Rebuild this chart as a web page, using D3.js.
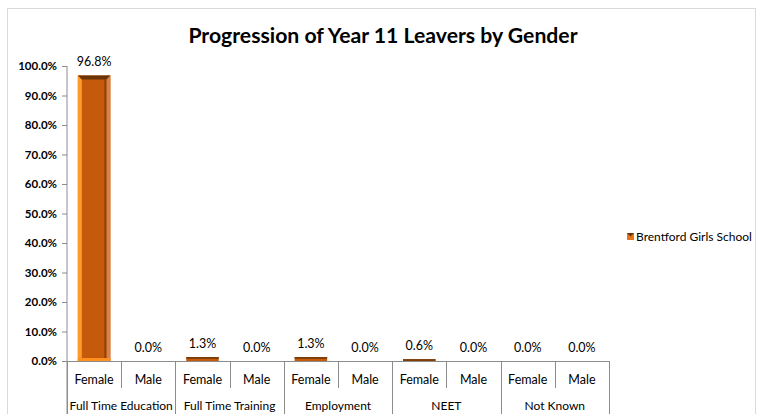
<!DOCTYPE html>
<html><head><meta charset="utf-8">
<script src="https://cdn.jsdelivr.net/npm/d3@7/dist/d3.min.js"></script>
<style>body{margin:0;background:#fff;} svg{display:block;font-family:Lato, "Open Sans", sans-serif;}</style>
</head><body>
<svg id="c" width="759" height="414"></svg>
<script>
const groups = ["Full Time Education","Full Time Training","Employment","NEET","Not Known"];
const genders = ["Female","Male"];
const values = [0.968,0,0.013,0,0.013,0,0.006,0,0,0];
const valueLabels = ["96.8%","0.0%","1.3%","0.0%","1.3%","0.0%","0.6%","0.0%","0.0%","0.0%"];
const yTicks = [0,0.1,0.2,0.3,0.4,0.5,0.6,0.7,0.8,0.9,1.0];
const seriesName = "Brentford Girls School";
const title = "Progression of Year 11 Leavers by Gender";

const svg = d3.select("#c");
svg.append("rect").attr("x",7.5).attr("y",8.5).attr("width",748).attr("height",420)
  .attr("fill","none").attr("stroke","#d9d9d9");

svg.append("text").attr("x",383).attr("y",43).attr("text-anchor","middle")
  .attr("font-size",21.2).attr("font-weight","bold").attr("fill","#000").text(title);

const cats = [];
groups.forEach(g=>genders.forEach(s=>cats.push(g+"|"+s)));
const x = d3.scaleBand().domain(cats).range([67,609]).paddingInner(0.4).paddingOuter(0.2);
const y = d3.scaleLinear().domain([0,1]).range([361,66]);

const ya = svg.append("g").attr("transform","translate(67,0)")
  .call(d3.axisLeft(y).tickValues(yTicks).tickSize(5).tickFormat(d3.format(".1%")));
ya.select(".domain").attr("stroke","#8c8c8c").attr("d","M0,66V414");
ya.selectAll(".tick line").attr("stroke","#8c8c8c");
ya.selectAll(".tick text").attr("font-size",11.5).attr("font-weight","bold").attr("fill","#000")
  .attr("font-family","Lato, sans-serif").attr("x",-10);

svg.append("line").attr("x1",67).attr("x2",609).attr("y1",361.5).attr("y2",361.5).attr("stroke","#8c8c8c");
const step = x.step();
for(let i=0;i<=cats.length;i++){
  const xx = Math.round(67 + i*step)+0.5;
  const isGroup = i%2===0;
  svg.append("line").attr("x1",xx).attr("x2",xx).attr("y1",361).attr("y2",isGroup?414:388).attr("stroke","#8c8c8c");
}
cats.forEach((c,i)=>{
  svg.append("text").attr("x",67+(i+0.5)*step).attr("y",383.5).attr("text-anchor","middle")
    .attr("font-size",12.5).attr("fill","#000").text(c.split("|")[1]);
});
groups.forEach((g,i)=>{
  svg.append("text").attr("x",67+(i*2+1)*step).attr("y",409.5).attr("text-anchor","middle")
    .attr("font-size",12).attr("fill","#000").text(g);
});

cats.forEach((c,i)=>{
  const v = values[i];
  const bx = x(c), bw = x.bandwidth();
  const top = y(v), h = y(0)-y(v);
  if(h>0){
    const g = svg.append("g");
    g.append("rect").attr("x",bx).attr("y",top).attr("width",bw).attr("height",h).attr("fill","#C55A0B");
    if(h>10){
      g.append("rect").attr("x",bx).attr("y",top).attr("width",4).attr("height",h).attr("fill","#FF9A2A");
      g.append("rect").attr("x",bx+bw-4).attr("y",top).attr("width",4).attr("height",h).attr("fill","#D98245");
      g.append("rect").attr("x",bx+bw-6).attr("y",top+4).attr("width",2).attr("height",h-6).attr("fill","#8E4108");
      g.append("rect").attr("x",bx).attr("y",y(0)-3).attr("width",bw).attr("height",3).attr("fill","#FF8F1F");
      g.append("path").attr("d",`M${bx},${top}H${bx+bw}L${bx+bw-4},${top+4}H${bx+4}Z`).attr("fill","#6B3406");
    } else {
      g.append("rect").attr("x",bx).attr("y",top).attr("width",bw).attr("height",Math.min(1.5,h)).attr("fill","#6B3406");
    }
  }
  svg.append("text").attr("x",bx+bw/2).attr("y",top-9).attr("text-anchor","middle")
    .attr("font-size",12.5).attr("fill","#000").text(valueLabels[i]);
});

const lg = svg.append("g").attr("transform","translate(627,233)");
lg.append("rect").attr("width",7).attr("height",7).attr("fill","#E8741A");
lg.append("path").attr("d","M0,0H7L3.5,3.5Z").attr("fill","#6B3406");
lg.append("text").attr("x",9).attr("y",7.5).attr("font-size",12).attr("fill","#000").text(seriesName);
</script>
</body></html>
